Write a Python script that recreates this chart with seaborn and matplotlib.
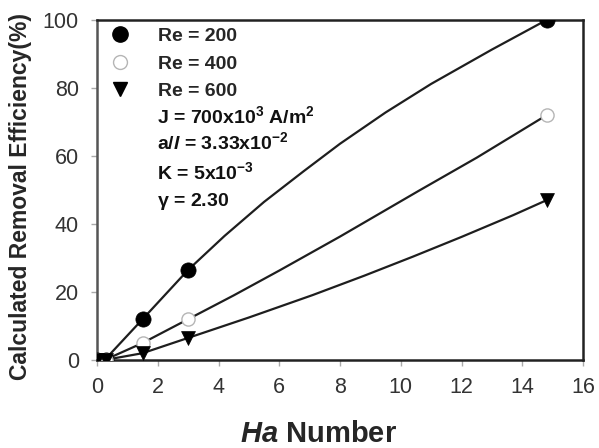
import matplotlib
matplotlib.use("Agg")
import matplotlib.pyplot as plt
import seaborn as sns
import pandas as pd
from matplotlib.lines import Line2D

# ---- data ----
series = ["Re = 200", "Re = 400", "Re = 600"]

# measured points
ha_pts = [0.0, 0.3, 1.5, 3.0, 14.8]
eff_re200 = [0.0, 0.0, 12.0, 26.5, 100.0]
eff_re400 = [0.0, 0.0, 5.0, 12.0, 72.0]
eff_re600 = [0.0, 0.0, 2.0, 6.5, 47.0]

# calculated curves
ha_c200 = [0.25, 1.5, 3.0, 4.2, 5.5, 6.8, 8.0, 9.5, 11.0, 13.0, 14.8]
c200 = [0.0, 12.0, 26.5, 36.5, 46.5, 55.5, 63.6, 72.8, 81.2, 91.3, 100.0]
ha_c400 = [0.25, 1.5, 3.0, 4.5, 6.0, 8.0, 10.6, 12.5, 14.8]
c400 = [0.0, 5.0, 12.0, 19.0, 26.3, 36.3, 49.8, 59.5, 72.0]
ha_c600 = [0.25, 1.5, 3.0, 5.0, 7.1, 8.8, 10.4, 12.0, 13.7, 14.8]
c600 = [0.0, 2.0, 6.5, 12.5, 19.1, 24.8, 30.4, 36.2, 42.6, 47.0]

x_ticks = [0, 2, 4, 6, 8, 10, 12, 14, 16]
y_ticks = [0, 20, 40, 60, 80, 100]

param_lines = [
    r"J = 700x10$^{\mathbf{3}}$ A/m$^{\mathbf{2}}$",
    r"a/$\mathit{l}$ = 3.33x10$^{\mathbf{-2}}$",
    r"K = 5x10$^{\mathbf{-3}}$",
    r"$\mathbf{\gamma}$ = 2.30",
]

# ---- build tables ----
pts = pd.DataFrame({
    "Ha": ha_pts * 3,
    "eff": eff_re200 + eff_re400 + eff_re600,
    "series": [series[0]] * 5 + [series[1]] * 5 + [series[2]] * 5,
})
curves = pd.DataFrame({
    "Ha": ha_c200 + ha_c400 + ha_c600,
    "eff": c200 + c400 + c600,
    "series": [series[0]] * len(ha_c200) + [series[1]] * len(ha_c400) + [series[2]] * len(ha_c600),
})

sns.set_style("white")
plt.rcParams["font.family"] = ["Liberation Sans", "DejaVu Sans"]
plt.rcParams["mathtext.fontset"] = "custom"
plt.rcParams["mathtext.rm"] = "Liberation Sans:bold"
plt.rcParams["mathtext.bf"] = "Liberation Sans:bold"
plt.rcParams["mathtext.it"] = "Liberation Sans:bold:italic"

fig = plt.figure(figsize=(5.99, 4.48), dpi=100)
ax = fig.add_axes([97 / 599, 88 / 448, 486 / 599, 340 / 448])

sns.lineplot(data=curves, x="Ha", y="eff", units="series", estimator=None,
             color="#1e1e1e", lw=1.6, ax=ax, legend=False, sort=True)

styles = {
    "Re = 200": dict(marker="o", s=120, color="black", edgecolor="black", linewidth=0.5),
    "Re = 400": dict(marker="o", s=90, color="white", edgecolor="#b5b5b5", linewidth=1.0),
    "Re = 600": dict(marker="v", s=100, color="black", edgecolor="black", linewidth=0.5),
}
for name in series:
    sub = pts[pts["series"] == name]
    sns.scatterplot(data=sub, x="Ha", y="eff", ax=ax, zorder=5, legend=False,
                    **styles[name])

ax.set_xlim(0, 16)
ax.set_ylim(0, 100)
ax.set_xticks(x_ticks)
ax.set_yticks(y_ticks)
ax.tick_params(axis="both", which="major", bottom=True, left=True, direction="out",
               length=4, width=1, color="#aaaaaa",
               labelsize=15.5, labelcolor="#333333")
ax.tick_params(axis="y", pad=9)
ax.tick_params(axis="x", pad=8)
for sp in ax.spines.values():
    sp.set_visible(True)
    sp.set_color("#222222")
    sp.set_linewidth(1.8)
ax.spines["left"].set_color("#555555")

ax.set_xlabel(r"$\mathit{Ha}$ Number", fontsize=21, fontweight="bold")
ax.xaxis.set_label_coords((318 - 97) / 486, -0.175)
ax.set_ylabel("Calculated Removal Efficiency(%)", fontsize=16.5, fontweight="bold")
ax.yaxis.set_label_coords(-0.133, 0.48)

handles = [
    Line2D([], [], ls="none", marker="o", ms=11, mfc="black", mec="black"),
    Line2D([], [], ls="none", marker="o", ms=10, mfc="white", mec="#b5b5b5", mew=1.0),
    Line2D([], [], ls="none", marker="v", ms=10.5, mfc="black", mec="black"),
]
leg = ax.legend(handles, series, loc="upper left", bbox_to_anchor=(0.012, 0.995),
                frameon=False, prop={"weight": "bold", "size": 14},
                handlelength=1.2, handletextpad=1.35, labelspacing=0.51,
                borderaxespad=0.1, borderpad=0.2)

baselines = [123, 149, 179, 206]
for txt, b in zip(param_lines, baselines):
    ax.text((157 - 97) / 486, (360 - b) / 340, txt, transform=ax.transAxes,
            fontsize=14, fontweight="bold", va="baseline", ha="left", color="#111111")

fig.savefig("out.png", dpi=100)
